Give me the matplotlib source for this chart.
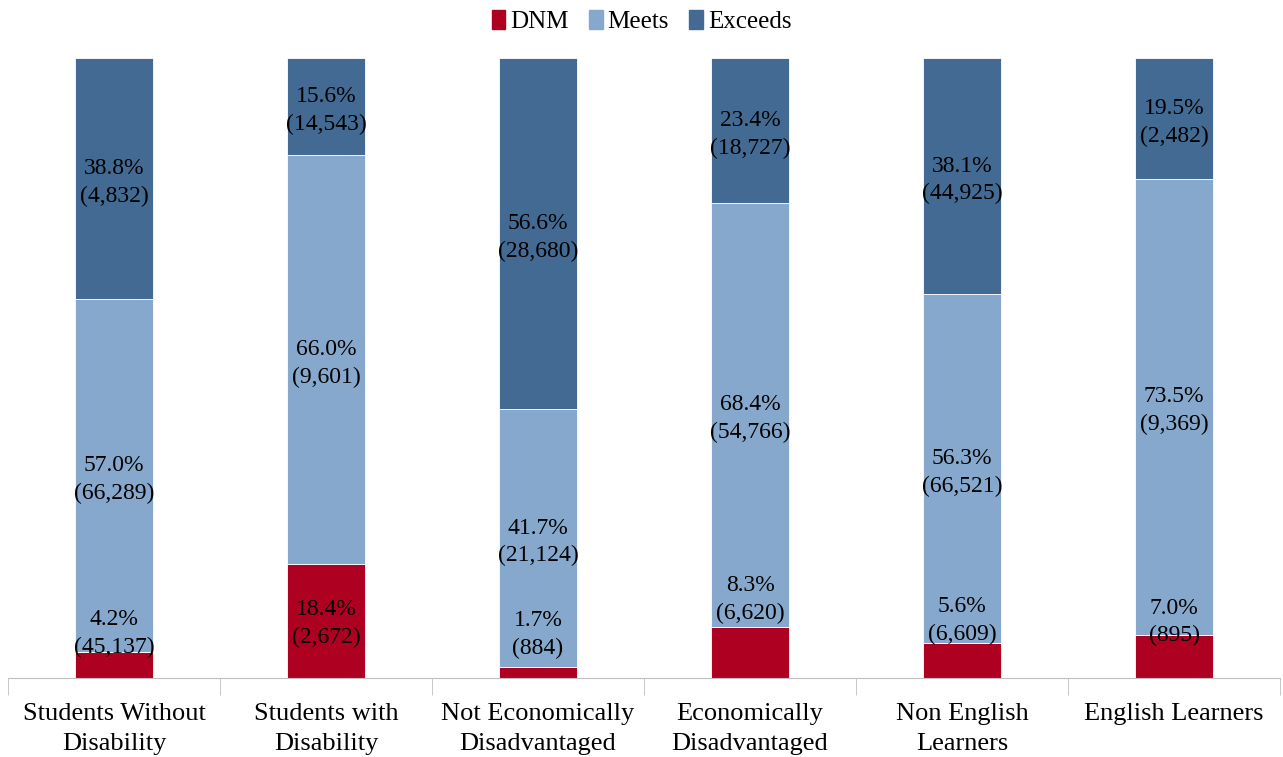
import numpy as np
import matplotlib.pyplot as plt
from matplotlib.patches import Patch

# data
categories = ['Students Without\nDisability', 'Students with\nDisability',
              'Not Economically\nDisadvantaged', 'Economically\nDisadvantaged',
              'Non English\nLearners', 'English Learners']
dnm_pct = [4.2, 18.4, 1.7, 8.3, 5.6, 7.0]
meets_pct = [57.0, 66.0, 41.7, 68.4, 56.3, 73.5]
exceeds_pct = [38.8, 15.6, 56.6, 23.4, 38.1, 19.5]
dnm_n = ['45,137', '2,672', '884', '6,620', '6,609', '895']
meets_n = ['66,289', '9,601', '21,124', '54,766', '66,521', '9,369']
exceeds_n = ['4,832', '14,543', '28,680', '18,727', '44,925', '2,482']

# where the DNM labels sit (fraction of bar height), as placed in the original
dnm_label_y = [0.072, 0.088, 0.070, 0.127, 0.093, 0.090]

c_dnm = '#AE0021'
c_meets = '#85A8CC'
c_exc = '#426A93'

plt.rcParams['font.family'] = ['Liberation Serif', 'DejaVu Serif']

fig = plt.figure(figsize=(12.83, 7.57), dpi=100)
ax = fig.add_axes([0.0062, 0.1044, 0.9915, 0.819])

x = np.arange(len(categories))
d = np.array(dnm_pct) / 100
m = np.array(meets_pct) / 100
e = np.array(exceeds_pct) / 100
tot = d + m + e
d, m, e = d / tot, m / tot, e / tot

w = 0.37
ax.bar(x, d, w, color=c_dnm, edgecolor='white', linewidth=0.6)
ax.bar(x, m, w, bottom=d, color=c_meets, edgecolor='white', linewidth=0.6)
ax.bar(x, e, w, bottom=d + m, color=c_exc, edgecolor='white', linewidth=0.6)

fs = 17
ls = 1.4
off = 0.0065  # labels sit a touch below the segment middle
for i in range(len(x)):
    ax.text(x[i], dnm_label_y[i], '%.1f%%\n(%s)' % (dnm_pct[i], dnm_n[i]),
            ha='center', va='center', fontsize=fs, linespacing=ls)
    ax.text(x[i], d[i] + m[i] / 2 - off, '%.1f%%\n(%s)' % (meets_pct[i], meets_n[i]),
            ha='center', va='center', fontsize=fs, linespacing=ls)
    ax.text(x[i], d[i] + m[i] + e[i] / 2 - off, '%.1f%%\n(%s)' % (exceeds_pct[i], exceeds_n[i]),
            ha='center', va='center', fontsize=fs, linespacing=ls)

ax.set_xlim(-0.5, len(x) - 0.5)
ax.set_ylim(0, 1)
for s in ['top', 'right', 'left']:
    ax.spines[s].set_visible(False)
ax.spines['bottom'].set_color('#BFBFBF')
ax.set_yticks([])
ax.set_xticks(x)
ax.set_xticklabels(categories, fontsize=19, linespacing=1.46)
ax.tick_params(axis='x', which='major', length=0, pad=18)
ax.set_xticks(np.arange(len(x) + 1) - 0.5, minor=True)
ax.tick_params(axis='x', which='minor', length=12, color='#BFBFBF')

handles = [Patch(color=c_dnm, label='DNM'), Patch(color=c_meets, label='Meets'),
           Patch(color=c_exc, label='Exceeds')]
fig.legend(handles=handles, loc='upper center', bbox_to_anchor=(0.5, 1.016), ncol=3,
           frameon=False, fontsize=18, handlelength=0.55, handleheight=0.75,
           handletextpad=0.2, columnspacing=0.8)

fig.savefig('out.png', dpi=100)
